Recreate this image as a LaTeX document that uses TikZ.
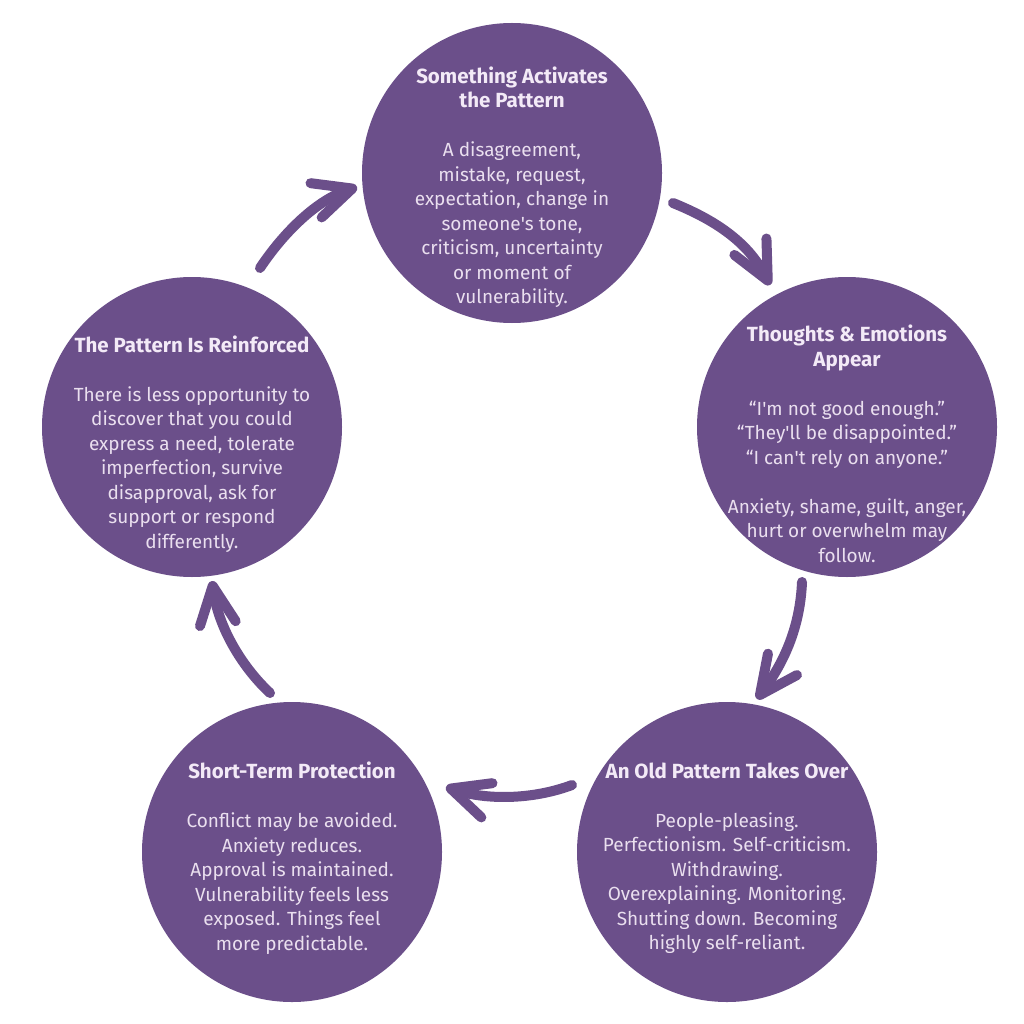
\documentclass[tikz,border=0pt]{standalone}
\usepackage{fontspec}
\setmainfont{Fira Sans}
\usetikzlibrary{arrows.meta}
\definecolor{cyclepurple}{HTML}{6B4F8A}
\definecolor{titletext}{HTML}{F3EAF7}
\definecolor{bodytext}{HTML}{EADFEF}
\tikzset{
  bubble/.style={circle, fill=cyclepurple, minimum size=300pt, inner sep=0pt},
  bubbletext/.style={align=center, text=bodytext, font=\fontsize{19}{24.5}\selectfont},
  cyclearrow/.style={draw=cyclepurple, line width=10pt, line cap=round,
    -{Straight Barb[length=38pt, width=36pt, round]}}
}
\newcommand{\steptitle}[1]{{\color{titletext}\bfseries\fontsize{20.5}{24.5}\selectfont #1}}
\newcommand{\aps}{\textquotesingle}
\begin{document}
\begin{tikzpicture}[x=1pt, y=-1pt]
    \useasboundingbox[fill=white] (0,0) rectangle (1024,1024);

    % circles
    \node[bubble] (activate) at (512,173) {};
    \node[bubble] (thoughts) at (847,427) {};
    \node[bubble] (oldpattern) at (727,852) {};
    \node[bubble] (protect) at (292,852) {};
    \node[bubble] (reinforce) at (192,427) {};

    % texts
    \node[bubbletext] (activatetext) at (512,187) {\steptitle{Something Activates}\\ \steptitle{the Pattern}\\[24.5pt]
        A disagreement,\\ mistake, request,\\ expectation, change in\\ someone\aps s tone,\\
        criticism, uncertainty\\ or moment of\\ vulnerability.};
    \node[bubbletext] (thoughtstext) at (847,444) {\steptitle{Thoughts \& Emotions}\\ \steptitle{Appear}\\[24.5pt]
        “I\aps m not good enough.”\\ “They\aps ll be disappointed.”\\ “I can\aps t rely on anyone.”\\[24.5pt]
        Anxiety, shame, guilt, anger,\\ hurt or overwhelm may\\ follow.};
    \node[bubbletext] (oldpatterntext) at (727,858) {\steptitle{An Old Pattern Takes Over}\\[24.5pt]
        People-pleasing.\\ Perfectionism. Self-criticism.\\ Withdrawing.\\ Overexplaining. Monitoring.\\
        Shutting down. Becoming\\ highly self-reliant.};
    \node[bubbletext] (protecttext) at (292,858) {\steptitle{Short-Term Protection}\\[24.5pt]
        Conflict may be avoided.\\ Anxiety reduces.\\ Approval is maintained.\\ Vulnerability feels less\\
        exposed. Things feel\\ more predictable.};
    \node[bubbletext] (reinforcetext) at (192,444) {\steptitle{The Pattern Is Reinforced}\\[24.5pt]
        There is less opportunity to\\ discover that you could\\ express a need, tolerate\\ imperfection, survive\\
        disapproval, ask for\\ support or respond\\ differently.};

    % arrows
    \coordinate (arrowAs) at (673,203);
    \coordinate (arrowAe) at (770,285);
    \coordinate (arrowBs) at (802,582);
    \coordinate (arrowBe) at (757,699);
    \coordinate (arrowCs) at (572,785);
    \coordinate (arrowCe) at (446,787);
    \coordinate (arrowDs) at (270,693);
    \coordinate (arrowDe) at (212,581);
    \coordinate (arrowEs) at (260,268);
    \coordinate (arrowEe) at (357,187);
    \draw[cyclearrow] (arrowAs) .. controls (715,220) and (748,242) .. (arrowAe);
    \draw[cyclearrow] (arrowBs) .. controls (800,630) and (782,665) .. (arrowBe);
    \draw[cyclearrow] (arrowCs) .. controls (532,800) and (486,800) .. (arrowCe);
    \draw[cyclearrow] (arrowDs) .. controls (240,665) and (218,625) .. (arrowDe);
    \draw[cyclearrow] (arrowEs) .. controls (284,232) and (317,200) .. (arrowEe);
\end{tikzpicture}
\end{document}
